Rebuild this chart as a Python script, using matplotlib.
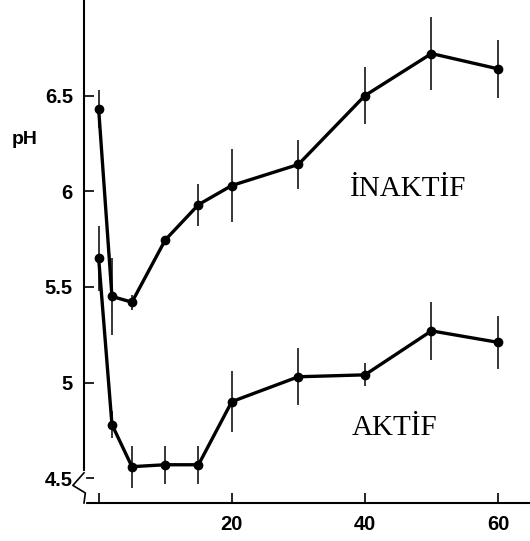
import matplotlib
matplotlib.use("Agg")
import matplotlib.pyplot as plt

# Data (time, pH, error)
x_inaktif = [0, 2, 5, 10, 15, 20, 30, 40, 50, 60]
y_inaktif = [6.43, 5.45, 5.42, 5.745, 5.93, 6.03, 6.14, 6.50, 6.72, 6.64]
e_inaktif = [0.10, 0.20, 0.04, 0.0, 0.11, 0.19, 0.13, 0.15, 0.19, 0.15]

x_aktif = [0, 2, 5, 10, 15, 20, 30, 40, 50, 60]
y_aktif = [5.65, 4.78, 4.56, 4.57, 4.57, 4.90, 5.03, 5.04, 5.27, 5.21]
e_aktif = [0.17, 0.07, 0.11, 0.10, 0.10, 0.16, 0.15, 0.06, 0.15, 0.14]

xticks = [0, 20, 40, 60]
xticklabels = ["", "20", "40", "60"]
yticks = [4.5, 5, 5.5, 6, 6.5]
yticklabels = ["4.5", "5", "5.5", "6", "6.5"]

fig = plt.figure(figsize=(5.30, 5.41), dpi=100)
ax = fig.add_axes([84/530, 1 - 503/541, 1 - 84/530, 503/541])

for xs, ys, es in [(x_inaktif, y_inaktif, e_inaktif), (x_aktif, y_aktif, e_aktif)]:
    ax.errorbar(xs, ys, yerr=es, fmt='none', ecolor='black', elinewidth=1.1, capsize=0)
    ax.plot(xs, ys, color='black', lw=2.4, marker='o', ms=6, mfc='black', mec='black')

ax.set_xlim(-2.2, 64.8)
ax.set_ylim(4.37, 7.0)

for s in ['top', 'right']:
    ax.spines[s].set_visible(False)
ax.spines['left'].set_linewidth(1.5)
ax.spines['bottom'].set_linewidth(1.5)

ax.set_xticks(xticks)
ax.set_xticklabels(xticklabels)
ax.set_yticks(yticks)
ax.set_yticklabels(yticklabels)
ax.tick_params(axis='both', direction='in', length=7, width=1.2, labelsize=14.5, colors='black')
ax.tick_params(axis='x', pad=9)
ax.tick_params(axis='y', pad=8)
for lab in ax.get_xticklabels() + ax.get_yticklabels():
    lab.set_family('Liberation Sans')
    lab.set_fontweight('bold')

ax.text(-0.163, 0.722, "pH", transform=ax.transAxes, fontsize=14, family='Liberation Sans',
        fontweight='bold', ha='left', va='center')

ax.text(46.5, 5.974, "İNAKTİF", fontsize=21, family='Liberation Serif', ha='center', va='baseline')
ax.text(44.5, 4.724, "AKTİF", fontsize=21, family='Liberation Serif', ha='center', va='baseline')

# axis break zigzag on the y axis
ax.plot([0, 0.0, 0.0], [0.06, 0.035, 0.0], transform=ax.transAxes,
        color='white', lw=3, clip_on=False, zorder=5)
ax.plot([0, -0.025, 0.003, 0.0], [0.06, 0.035, 0.02, 0.0], transform=ax.transAxes,
        color='black', lw=1.2, clip_on=False, zorder=6)

fig.savefig("out.png", dpi=100)
